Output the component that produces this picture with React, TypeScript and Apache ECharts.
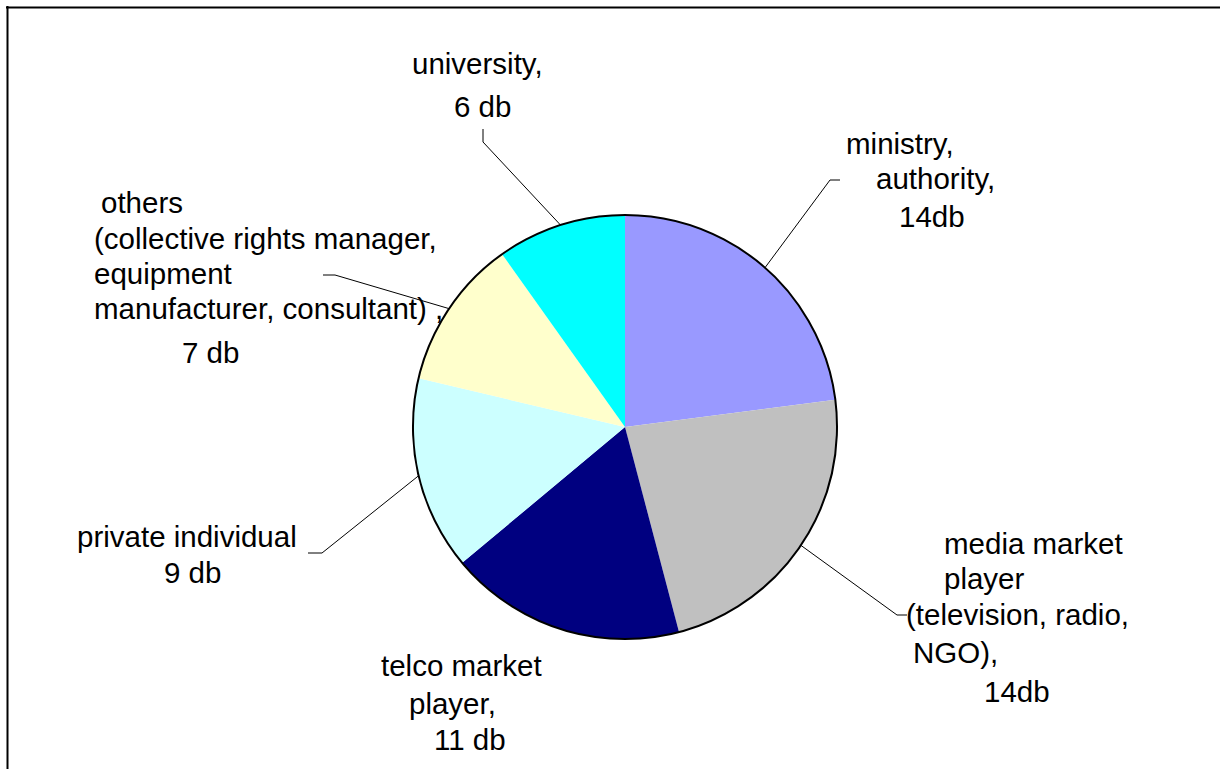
import React, { useEffect, useRef } from 'react';
import * as echarts from 'echarts';

// ---- data ----
const CATEGORIES = [
  'ministry, authority',
  'media market player (television, radio, NGO)',
  'telco market player',
  'private individual',
  'others (collective rights manager, equipment manufacturer, consultant)',
  'university',
];
const VALUES = [14, 14, 11, 9, 7, 6];
const LABEL_LINES = [
  ['ministry,', 'authority,'],
  ['media market', 'player', '(television, radio,', 'NGO),'],
  ['telco market', 'player,'],
  ['private individual'],
  ['others', '(collective rights manager,', 'equipment', 'manufacturer, consultant) ,'],
  ['university,'],
];
const UNIT = ['db', 'db', ' db', ' db', ' db', ' db'];
const COLORS = ['#9999FF', '#C0C0C0', '#000080', '#CCFFFF', '#FFFFCC', '#00FFFF'];

// ---- label layout (text line left x and baseline y, leader line tails) ----
const LABEL_LEFTS = [
  [846, 876, 899],
  [944, 944, 906, 913, 984],
  [381, 409, 434],
  [77, 164],
  [101, 94, 94, 94, 182],
  [412, 454],
];
const LABEL_BASELINES = [
  [153, 188, 226],
  [553, 588, 624, 662, 701],
  [675, 713, 749],
  [546, 582],
  [212, 248, 283, 318, 362],
  [73, 116],
];
const LEADER_TAILS: (number[][] | null)[] = [
  [[830, 180], [840, 180]],
  [[897, 615], [907, 615]],
  null,
  [[322, 553], [308, 553]],
  [[335, 275], [323, 275]],
  [[483, 142], [483, 129]],
];

const FONT = '"Liberation Sans", Arial, sans-serif';
const FONT_SIZE = 29.5;
const BASE_TO_CENTER = 10;
const CENTER = [625, 427];
const RADIUS = 212;

function labelGeometry(i: number) {
  const lefts = LABEL_LEFTS[i];
  const bases = LABEL_BASELINES[i];
  const x0 = Math.min(...lefts);
  const heights: number[] = [];
  heights.push(bases.length > 1 ? bases[1] - bases[0] : 36);
  for (let k = 1; k < bases.length; k++) {
    heights.push(2 * (bases[k] - bases[k - 1]) - heights[k - 1]);
  }
  const top = bases[0] - BASE_TO_CENTER - heights[0] / 2;
  const rich: Record<string, any> = {};
  lefts.forEach((l, k) => {
    rich['l' + k] = {
      fontSize: FONT_SIZE,
      fontFamily: FONT,
      color: '#000',
      lineHeight: heights[k],
      padding: [0, 0, 0, l - x0],
      align: 'left',
    };
  });
  return { x0, top, rich };
}

export default function App() {
  const ref = useRef<HTMLDivElement>(null);
  useEffect(() => {
    if (!ref.current) return;
    const chart = echarts.init(ref.current, undefined, { renderer: 'svg' });
    const geoms = VALUES.map((_, i) => labelGeometry(i));
    const data = VALUES.map((v, i) => {
      const lines = [...LABEL_LINES[i], `${v}${UNIT[i]}`];
      const text = lines.map((t, k) => `{l${k}|${t}}`).join('\n');
      return {
        name: CATEGORIES[i],
        value: v,
        itemStyle: { color: COLORS[i] },
        label: { formatter: text, rich: geoms[i].rich },
        labelLine: { show: LEADER_TAILS[i] != null },
      };
    });
    const total = VALUES.reduce((a, b) => a + b, 0);
    chart.setOption({
      animation: false,
      backgroundColor: '#ffffff',
      graphic: [
        { type: 'line', shape: { x1: 6, y1: 7.5, x2: 1220, y2: 7.5 }, style: { stroke: '#000', lineWidth: 2 } },
        { type: 'line', shape: { x1: 7.5, y1: 6, x2: 7.5, y2: 769 }, style: { stroke: '#000', lineWidth: 2 } },
      ],
      series: [
        {
          type: 'pie',
          center: CENTER,
          radius: RADIUS,
          startAngle: 90,
          clockwise: true,
          avoidLabelOverlap: false,
          silent: true,
          itemStyle: { borderWidth: 0 },
          label: {
            show: true,
            position: 'outside',
            overflow: 'none',
            fontFamily: FONT,
            fontSize: FONT_SIZE,
            color: '#000',
          },
          labelLine: { show: true, lineStyle: { color: '#000', width: 1 } },
          labelLayout: (params: any) => {
            const i = params.dataIndex;
            const g = geoms[i];
            const res: any = { x: g.x0, y: g.top, align: 'left', verticalAlign: 'top' };
            const tails = LEADER_TAILS[i];
            if (tails) {
              let start = params.labelLinePoints && params.labelLinePoints[0];
              if (!start) {
                let acc = 0;
                for (let k = 0; k < i; k++) acc += VALUES[k];
                const mid = ((acc + VALUES[i] / 2) / total) * 2 * Math.PI;
                start = [CENTER[0] + RADIUS * Math.sin(mid), CENTER[1] - RADIUS * Math.cos(mid)];
              }
              res.labelLinePoints = [start, tails[0], tails[1]];
            }
            return res;
          },
          emphasis: { disabled: true },
          data,
        },
        {
          type: 'pie',
          center: CENTER,
          radius: RADIUS,
          silent: true,
          label: { show: false },
          labelLine: { show: false },
          emphasis: { disabled: true },
          itemStyle: { color: 'rgba(0,0,0,0)', borderColor: '#000', borderWidth: 2 },
          data: [{ value: 1, name: 'outline' }],
        },
      ],
    });
    return () => chart.dispose();
  }, []);
  return (
    <div
      ref={ref}
      style={{ position: 'fixed', left: 0, top: 0, width: 1220, height: 769, background: '#fff' }}
    />
  );
}
